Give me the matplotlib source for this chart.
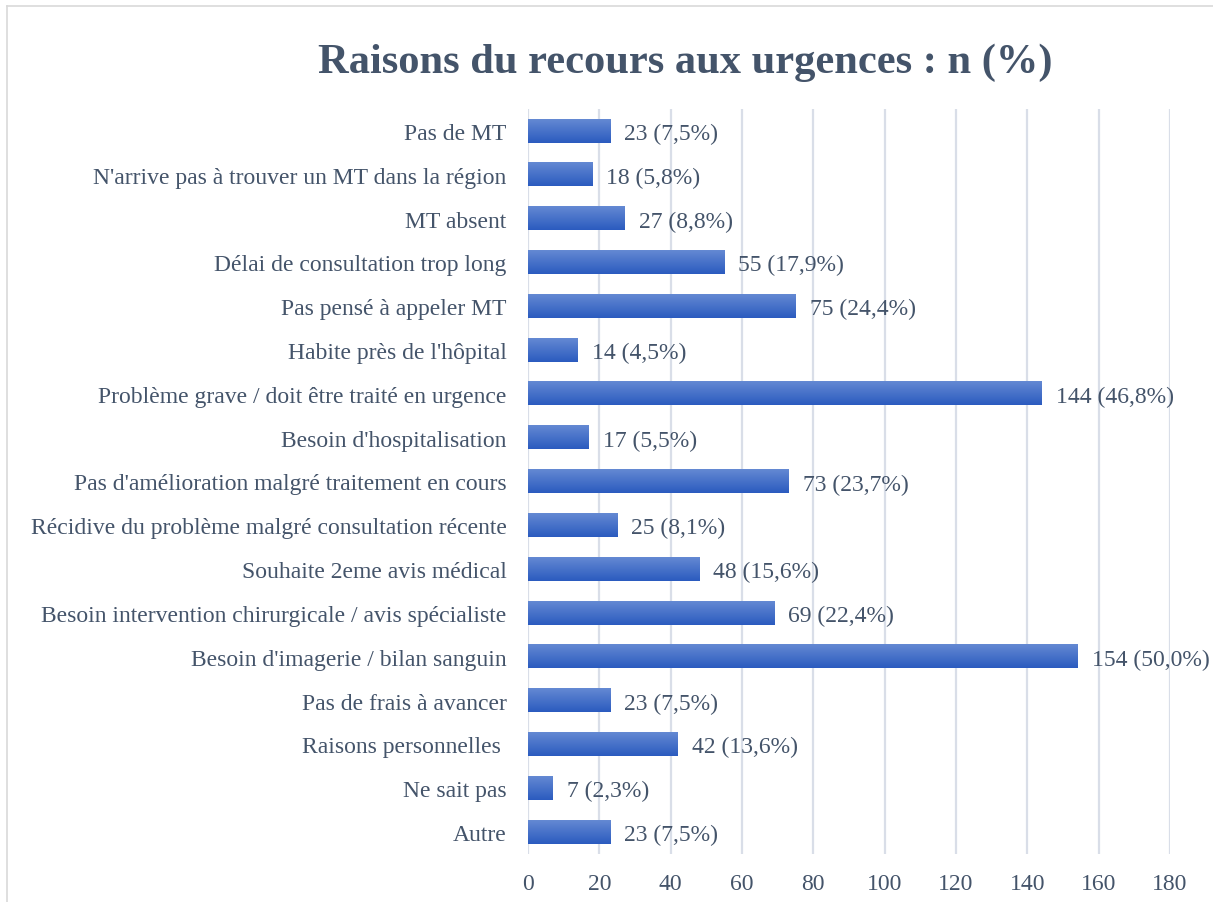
import matplotlib
matplotlib.use("Agg")
import matplotlib.pyplot as plt
import numpy as np
from matplotlib.colors import LinearSegmentedColormap
from matplotlib.lines import Line2D

categories = [
    "Pas de MT",
    "N'arrive pas à trouver un MT dans la région",
    "MT absent",
    "Délai de consultation trop long",
    "Pas pensé à appeler MT",
    "Habite près de l'hôpital",
    "Problème grave / doit être traité en urgence",
    "Besoin d'hospitalisation",
    "Pas d'amélioration malgré traitement en cours",
    "Récidive du problème malgré consultation récente",
    "Souhaite 2eme avis médical",
    "Besoin intervention chirurgicale / avis spécialiste",
    "Besoin d'imagerie / bilan sanguin",
    "Pas de frais à avancer",
    "Raisons personnelles ",
    "Ne sait pas",
    "Autre",
]
counts = [23, 18, 27, 55, 75, 14, 144, 17, 73, 25, 48, 69, 154, 23, 42, 7, 23]
percents = ["7,5", "5,8", "8,8", "17,9", "24,4", "4,5", "46,8", "5,5", "23,7",
            "8,1", "15,6", "22,4", "50,0", "7,5", "13,6", "2,3", "7,5"]
xticks = [0, 20, 40, 60, 80, 100, 120, 140, 160, 180]
title = "Raisons du recours aux urgences : n (%)"

text_color = "#44546A"
grid_color = "#D9DEE8"
font = ["Liberation Serif", "DejaVu Serif"]
fs = 17

fig = plt.figure(figsize=(12.13, 9.03), dpi=100)
# outer chart frame (top and left edges visible)
fig.lines.append(Line2D([7 / 1213, 7 / 1213], [0, 1 - 7 / 903], transform=fig.transFigure,
                        color="#D9D9D9", linewidth=1.2))
fig.lines.append(Line2D([7 / 1213, 1], [1 - 7 / 903, 1 - 7 / 903], transform=fig.transFigure,
                        color="#D9D9D9", linewidth=1.2))

ax = fig.add_axes([528 / 1213, 1 - 855 / 903, (1170 - 528) / 1213, (855 - 110) / 903])

n = len(categories)
ypos = np.arange(n)
bar_h = 0.53
cmap = LinearSegmentedColormap.from_list("g", ["#6489D3", "#2B5BBF"])
grad = np.linspace(0, 1, 64).reshape(-1, 1)

bars = ax.barh(ypos, counts, height=bar_h, color="#3F6CC8", zorder=2)
for b in bars:
    x0, y0 = b.get_x(), b.get_y()
    w, h = b.get_width(), b.get_height()
    ax.imshow(grad, cmap=cmap, aspect="auto", origin="upper",
              extent=(x0, x0 + w, y0 + h, y0), zorder=3, interpolation="bilinear")

for y, c, p in zip(ypos, counts, percents):
    ax.text(c + 4.0, y, f"{c} ({p}%)", va="center_baseline", ha="left",
            fontsize=fs, color=text_color, family=font)

ax.set_xlim(0, 180)
ax.set_ylim(n - 0.5, -0.5)
ax.set_xticks(xticks)
ax.set_xticklabels([str(t) for t in xticks], fontsize=fs, color=text_color, family=font)
ax.set_yticks(ypos)
ax.set_yticklabels(categories, fontsize=fs, color=text_color, family=font)
ax.tick_params(axis="both", length=0)
ax.tick_params(axis="y", pad=15.5)
ax.tick_params(axis="x", pad=14)
ax.grid(axis="x", color=grid_color, linewidth=1.6, zorder=0)
ax.set_axisbelow(True)
for s in ax.spines.values():
    s.set_visible(False)

fig.text(685 / 1213, 1 - 58 / 903, title, ha="center", va="center_baseline",
         fontsize=30.6, fontweight="bold", color=text_color, family=font)

fig.savefig("out.png", dpi=100)
